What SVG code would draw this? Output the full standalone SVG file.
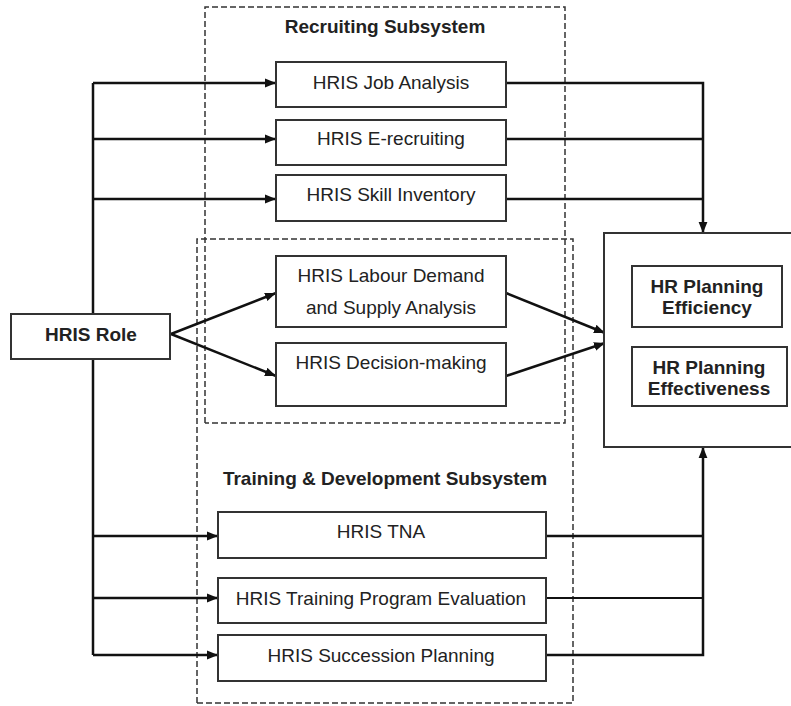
<svg xmlns="http://www.w3.org/2000/svg" width="791" height="706" viewBox="0 0 791 706">
<style>
.node{fill:#fff;stroke:#333;stroke-width:2}
.t{font-family:"Liberation Sans",Arial,sans-serif;font-size:19px;fill:#222;text-anchor:middle}
.b{font-weight:bold}
.c{fill:none;stroke:#111;stroke-width:2.5}
.dash{fill:none;stroke:#333;stroke-width:1.5;stroke-dasharray:6,3}
</style>
<defs>
<marker id="ah" viewBox="0 0 10 10" refX="10" refY="5" markerWidth="11" markerHeight="11" markerUnits="userSpaceOnUse" orient="auto">
<path d="M0,1 L10,5 L0,9 Z" fill="#111"/>
</marker>
</defs>
<rect width="791" height="706" fill="#fff"/>

<g id="subsystems">
<path class="dash" d="M205,423 V7 H565 V423 H205"/>
<path class="dash" d="M197,703 V239 H573 V703 H197"/>
<text class="t b" x="385" y="33">Recruiting Subsystem</text>
<text class="t b" x="385" y="485">Training &amp; Development Subsystem</text>
</g>

<g id="connectors">
<path class="c" d="M93,83 V655"/>
<path class="c" d="M93,83 H276" marker-end="url(#ah)"/>
<path class="c" d="M93,139 H276" marker-end="url(#ah)"/>
<path class="c" d="M93,199 H276" marker-end="url(#ah)"/>
<path class="c" d="M93,536 H218" marker-end="url(#ah)"/>
<path class="c" d="M93,598 H218" marker-end="url(#ah)"/>
<path class="c" d="M93,655 H218" marker-end="url(#ah)"/>
<path class="c" d="M171,334 L276,293" marker-end="url(#ah)"/>
<path class="c" d="M171,334 L276,376" marker-end="url(#ah)"/>
<path class="c" d="M506,83 H703 V233" marker-end="url(#ah)"/>
<path class="c" d="M506,139 H703"/>
<path class="c" d="M506,199 H703"/>
<path class="c" d="M506,293 L605,333" marker-end="url(#ah)"/>
<path class="c" d="M506,376 L605,343" marker-end="url(#ah)"/>
<path class="c" d="M546,655 H703 V447" marker-end="url(#ah)"/>
<path class="c" d="M546,536 H703"/>
<path class="c" d="M546,598 H703" style="stroke-width:2"/>
</g>

<g id="hris-role">
<rect class="node" x="11" y="314" width="159" height="45"/>
<text class="t b" x="91" y="341">HRIS Role</text>
</g>
<g id="job-analysis">
<rect class="node" x="276" y="62" width="230" height="45"/>
<text class="t" x="391" y="89">HRIS Job Analysis</text>
</g>
<g id="e-recruiting">
<rect class="node" x="276" y="120" width="230" height="45"/>
<text class="t" x="391" y="145">HRIS E-recruiting</text>
</g>
<g id="skill-inventory">
<rect class="node" x="276" y="175" width="230" height="46"/>
<text class="t" x="391" y="201">HRIS Skill Inventory</text>
</g>
<g id="labour-demand">
<rect class="node" x="276" y="256" width="230" height="71"/>
<text class="t" x="391" y="282">HRIS Labour Demand</text>
<text class="t" x="391" y="314">and Supply Analysis</text>
</g>
<g id="decision-making">
<rect class="node" x="276" y="343" width="230" height="63"/>
<text class="t" x="391" y="369">HRIS Decision-making</text>
</g>
<g id="tna">
<rect class="node" x="218" y="512" width="328" height="46"/>
<text class="t" x="381" y="538">HRIS TNA</text>
</g>
<g id="training-eval">
<rect class="node" x="218" y="578" width="328" height="45"/>
<text class="t" x="381" y="605">HRIS Training Program Evaluation</text>
</g>
<g id="succession">
<rect class="node" x="218" y="635" width="328" height="46"/>
<text class="t" x="381" y="662">HRIS Succession Planning</text>
</g>
<g id="hr-planning">
<rect class="node" x="604" y="233" width="200" height="214"/>
</g>
<g id="efficiency">
<rect class="node" x="632" y="266" width="150" height="61"/>
<text class="t b" x="707" y="293">HR Planning</text>
<text class="t b" x="707" y="314">Efficiency</text>
</g>
<g id="effectiveness">
<rect class="node" x="632" y="347" width="155" height="59"/>
<text class="t b" x="709" y="374">HR Planning</text>
<text class="t b" x="709" y="395">Effectiveness</text>
</g>
</svg>
